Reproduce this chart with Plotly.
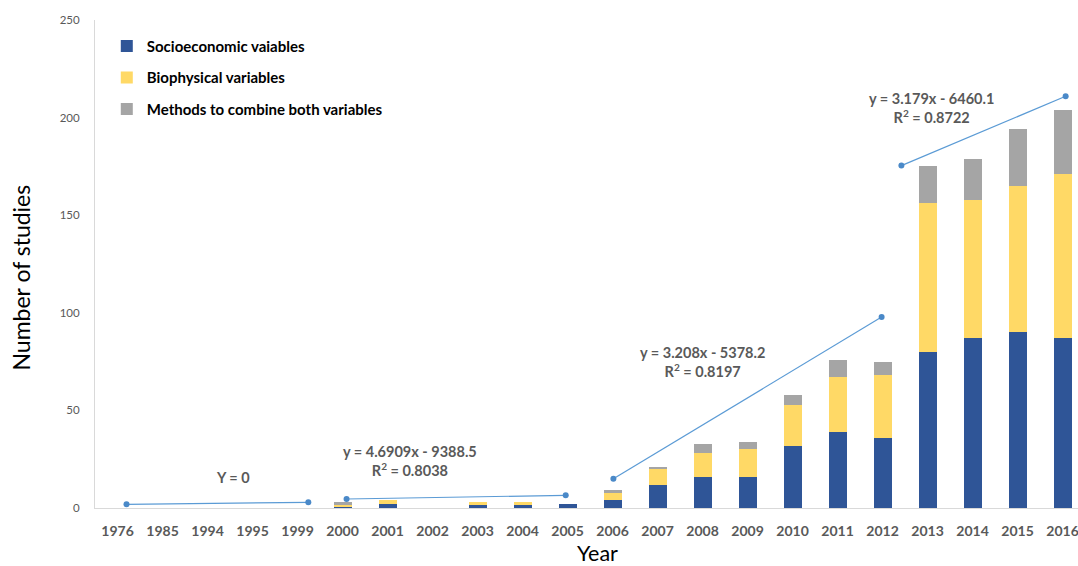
import plotly.graph_objects as go

# Publication years (categorical axis) and number of studies per category
years = ["1976", "1985", "1994", "1995", "1999", "2000", "2001", "2002", "2003", "2004", "2005",
         "2006", "2007", "2008", "2009", "2010", "2011", "2012", "2013", "2014", "2015", "2016"]
socioeconomic = [0, 0, 0, 0, 0, 1, 2, 0, 2, 2, 2, 4, 12, 16, 16, 32, 39, 36, 80, 87, 90, 87]
biophysical = [0, 0, 0, 0, 0, 1, 2, 0, 1, 1, 0, 4, 8, 12, 14, 21, 28, 32, 76, 71, 75, 84]
combined = [0, 0, 0, 0, 0, 1, 0, 0, 0, 0, 0, 1, 1, 5, 4, 5, 9, 7, 19, 21, 29, 33]

# Trend segments for the four periods: (x in category units, y in studies)
trend_x = [[0.2, 4.24], [5.09, 9.96], [11.02, 16.98], [17.42, 21.07]]
trend_y = [[1.9, 2.9], [4.6, 6.5], [15.0, 97.8], [175.4, 210.9]]
trend_labels = ["Y = 0",
                "y = 4.6909x - 9388.5<br>R<sup>2</sup> = 0.8038",
                "y = 3.208x - 5378.2<br>R<sup>2</sup> = 0.8197",
                "y = 3.179x - 6460.1<br>R<sup>2</sup> = 0.8722"]
label_x = [2.57, 6.5, 12.99, 18.09]
label_y = [15.7, 24.1, 74.9, 205.0]

y_ticks = [0, 50, 100, 150, 200, 250]

FONT = "Lato"
pos = list(range(len(years)))

fig = go.Figure()
series = [("Socioeconomic vaiables", socioeconomic, "#2F5597"),
          ("Biophysical variables", biophysical, "#FFD966"),
          ("Methods to combine both variables", combined, "#A5A5A5")]
for i, (name, vals, color) in enumerate(series):
    fig.add_trace(go.Bar(x=pos, y=vals, name=name, marker_color=color,
                         marker_line_width=0, width=0.4, legendgroup=f"g{i}"))

for tx, ty in zip(trend_x, trend_y):
    fig.add_trace(go.Scatter(x=tx, y=ty, mode="lines+markers", showlegend=False,
                             line=dict(color="#5B9BD5", width=1.2),
                             marker=dict(color="#4A89C8", size=6), hoverinfo="skip"))

for txt, lx, ly in zip(trend_labels, label_x, label_y):
    fig.add_annotation(x=lx, y=ly, text=txt, showarrow=False, xref="x", yref="y",
                       font=dict(family=FONT, size=14.5, color="#595959", weight="bold"),
                       align="center")

# Axis titles
fig.add_annotation(x=(597 - 95) / 983, y=(508 - 553) / 488.5, xref="paper", yref="paper",
                   text="Year", showarrow=False,
                   font=dict(family=FONT, size=21.5, color="#000000"), yanchor="middle")
fig.add_annotation(x=-0.075, y=(508 - 277) / 488.5, xref="paper", yref="paper",
                   text="Number of studies", textangle=-90, showarrow=False,
                   font=dict(family=FONT, size=23, color="#000000"), xanchor="center")

fig.update_layout(
    width=1078, height=566,
    margin=dict(l=95, r=0, t=19.5, b=58),
    barmode="stack",
    plot_bgcolor="white", paper_bgcolor="white",
    legend=dict(x=0.012, y=0.98, xanchor="left", yanchor="top", traceorder="grouped",
                tracegroupgap=9, itemwidth=30,
                font=dict(family=FONT, size=15, color="#000000", weight="bold"),
                bgcolor="rgba(0,0,0,0)"),
    xaxis=dict(range=[-0.5, -0.5 + 983 / 45], tickmode="array", tickvals=pos, ticktext=years,
               showgrid=False, zeroline=False, showline=True, linecolor="#D9D9D9", linewidth=1,
               ticks="", ticklabelstandoff=10, ticklabeloverflow="allow",
               tickfont=dict(family=FONT, size=14, color="#595959", weight="bold")),
    yaxis=dict(range=[0, 250], tickvals=y_ticks, showgrid=False, zeroline=False,
               showline=True, linecolor="#D9D9D9", linewidth=1, ticks="",
               ticklabelstandoff=12,
               tickfont=dict(family=FONT, size=11.5, color="#595959")),
)

fig.write_html("out.html")
